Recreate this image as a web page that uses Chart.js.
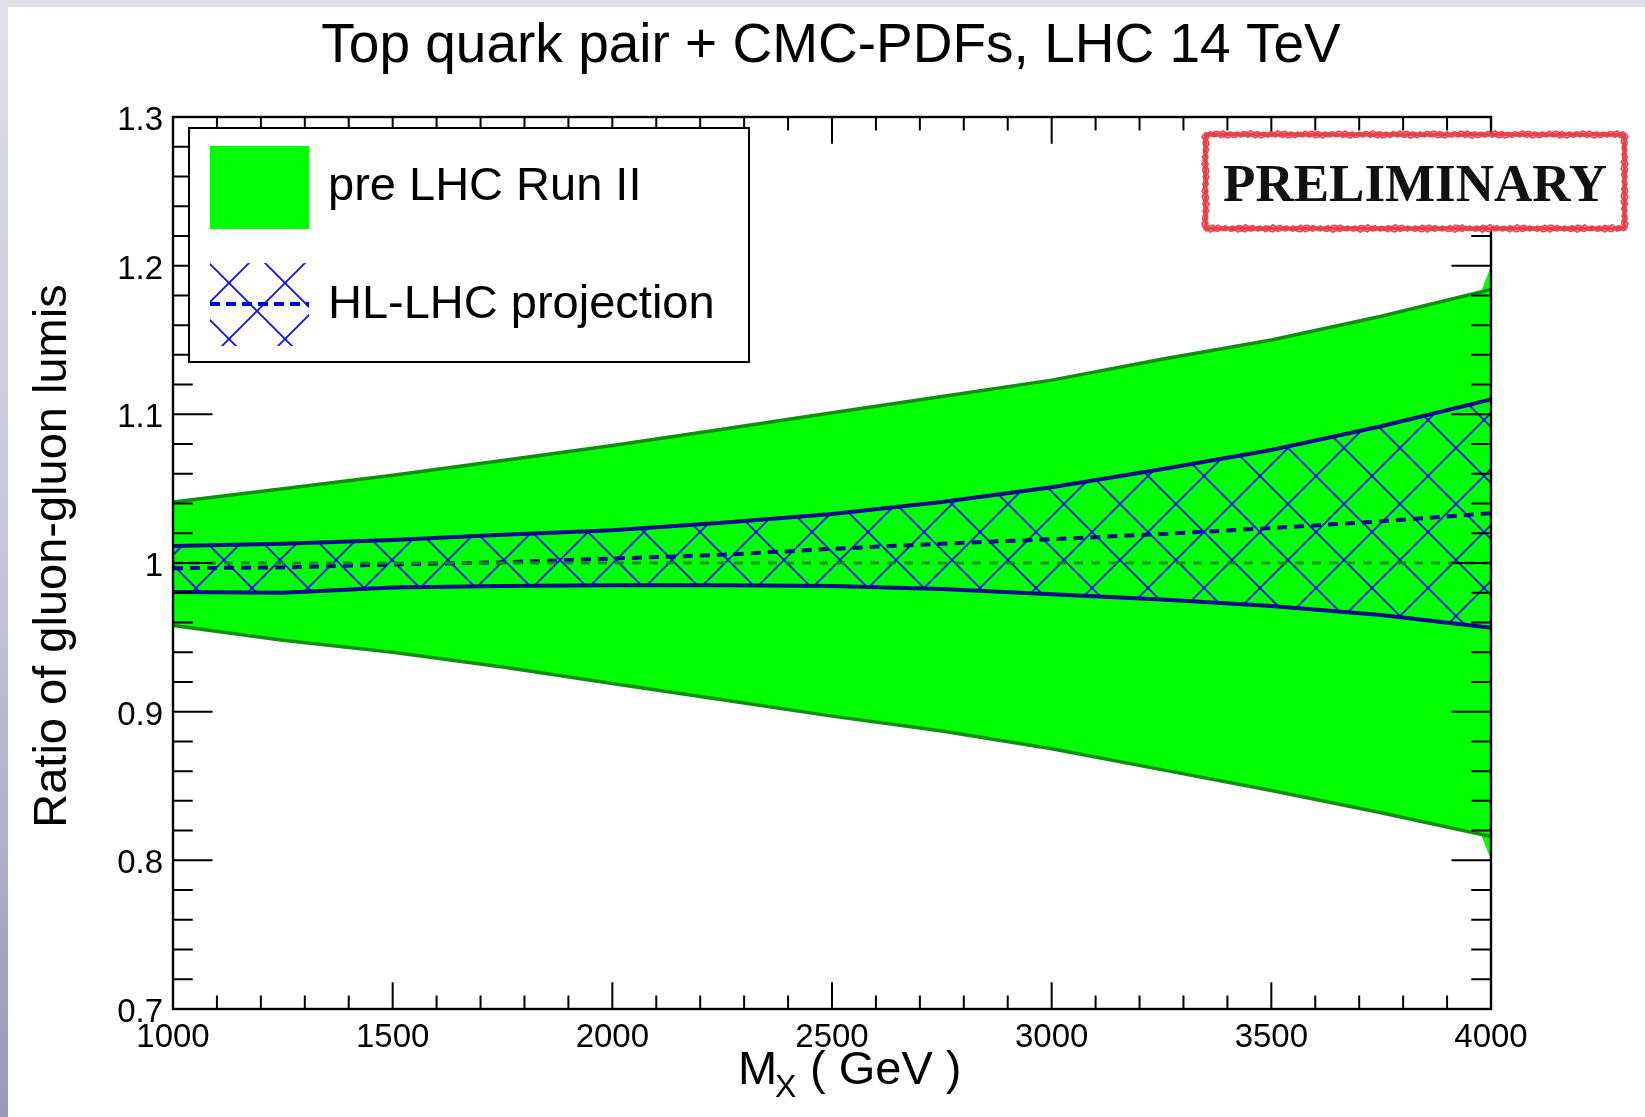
<!DOCTYPE html>
<html>
<head>
<meta charset="utf-8">
<title>Ratio of gluon-gluon lumis</title>
<script src="https://cdn.jsdelivr.net/npm/chart.js@4.4.1/dist/chart.umd.min.js"></script>
<style>
  html, body { margin: 0; padding: 0; width: 1645px; height: 1117px; overflow: hidden; }
  body { position: relative; background: linear-gradient(to bottom, #dfdfe7 0%, #c6c6d6 50%, #9898b9 100%); }
  #sheet { position: absolute; left: 8px; top: 7px; right: 0; bottom: 0; background: #fff; }
  #lumiChart { position: absolute; left: 0; top: 0; }
</style>
</head>
<body>
<div id="sheet"></div>
<canvas id="lumiChart" width="1645" height="1117"></canvas>
<script>
// gluon-gluon luminosity ratio vs invariant mass
const massGeV = [1000, 1250, 1500, 1750, 2000, 2250, 2500, 2750, 3000, 3250, 3500, 3750, 4000];
const preRun2Up = [1.041, 1.050, 1.059, 1.069, 1.079, 1.090, 1.101, 1.112, 1.123, 1.137, 1.150, 1.166, 1.184];
const preRun2Down = [0.958, 0.948, 0.940, 0.930, 0.919, 0.908, 0.897, 0.887, 0.875, 0.861, 0.847, 0.832, 0.816];
const hllhcUp = [1.0115, 1.013, 1.0155, 1.019, 1.022, 1.027, 1.033, 1.041, 1.051, 1.063, 1.076, 1.092, 1.110];
const hllhcDown = [0.9805, 0.980, 0.9835, 0.9845, 0.985, 0.985, 0.9845, 0.9825, 0.979, 0.9755, 0.971, 0.965, 0.9565];
const hllhcCentral = [0.9965, 0.997, 0.999, 1.0005, 1.003, 1.0055, 1.0095, 1.013, 1.016, 1.0195, 1.0235, 1.028, 1.0335];

// last bin of the pre Run II band (fill only, the edge lines stop before it)
const tipMass = [3978, 4000];
const tipUp = [1.183, 1.200];
const tipDown = [0.817, 0.800];

const xMajorTicks = [1000, 1500, 2000, 2500, 3000, 3500, 4000];
const yMajorTicks = [0.7, 0.8, 0.9, 1.0, 1.1, 1.2, 1.3];
const legendLabels = ["pre LHC Run II", "HL-LHC projection"];

const SANS = '"Liberation Sans", Arial, Helvetica, sans-serif';
const GREEN = "#00ff00";
const GREEN_EDGE = "#108e10";
const NAVY = "#0a0a8e";
const HATCH_BLUE = "#1010f0";

const pts = (xs, ys) => xs.map((x, i) => ({ x, y: ys[i] }));
const fillPts = (ys, tip) =>
  pts(massGeV, ys).filter((p) => p.x < tipMass[0]).concat(pts(tipMass, tip));

// crossed hatch for the HL-LHC band
function makeHatch(ctx) {
  const size = 56;
  const c = document.createElement("canvas");
  c.width = c.height = size;
  const g = c.getContext("2d");
  g.strokeStyle = HATCH_BLUE;
  g.lineWidth = 1.8;
  g.beginPath();
  for (const k of [-size, 0, size]) {
    g.moveTo(k, 0); g.lineTo(k + size, size);
    g.moveTo(k + size, 0); g.lineTo(k, size);
  }
  g.stroke();
  return ctx.createPattern(c, "repeat");
}

const canvas = document.getElementById("lumiChart");
const ctx = canvas.getContext("2d");
const hatch = makeHatch(ctx);

// hatch crossings sit on the ratio = 1 line, starting at the left axis
const hatchAnchor = {
  id: "hatchAnchor",
  beforeDatasetsDraw(chart) {
    const { chartArea, scales } = chart;
    hatch.setTransform(new DOMMatrix([1, 0, 0, 1, chartArea.left, scales.y.getPixelForValue(1)]));
  },
};

// ROOT style frame: ticks inside on all four sides
const frameTicks = {
  id: "frameTicks",
  afterDatasetsDraw(chart) {
    const { ctx, chartArea: a, scales: { x, y } } = chart;
    const w = a.right - a.left, h = a.bottom - a.top;
    ctx.save();
    ctx.strokeStyle = "#000";
    ctx.lineWidth = 2;
    ctx.beginPath();
    for (let m = 1000; m <= 4000; m += 100) {
      const px = x.getPixelForValue(m);
      const len = m % 500 === 0 ? h * 0.03 : h * 0.015;
      ctx.moveTo(px, a.bottom); ctx.lineTo(px, a.bottom - len);
      ctx.moveTo(px, a.top); ctx.lineTo(px, a.top + len);
    }
    for (let i = 0; i <= 30; i++) {
      const py = y.getPixelForValue(0.7 + i * 0.02);
      const len = i % 5 === 0 ? w * 0.03 : w * 0.015;
      ctx.moveTo(a.left, py); ctx.lineTo(a.left + len, py);
      ctx.moveTo(a.right, py); ctx.lineTo(a.right - len, py);
    }
    ctx.stroke();
    ctx.lineWidth = 2.4;
    ctx.strokeRect(a.left, a.top, w, h);
    ctx.restore();
  },
};

function roughLine(ctx, x0, y0, x1, y1, off, seed) {
  const len = Math.hypot(x1 - x0, y1 - y0);
  const n = Math.ceil(len / 2.5);
  const nx = -(y1 - y0) / len, ny = (x1 - x0) / len;
  ctx.beginPath();
  for (let i = 0; i <= n; i++) {
    const t = i / n;
    const j = off + 1.0 * Math.sin(i * 2.31 + seed) + 0.6 * Math.sin(i * 5.77 + seed * 1.7);
    const px = x0 + (x1 - x0) * t + nx * j;
    const py = y0 + (y1 - y0) * t + ny * j;
    i ? ctx.lineTo(px, py) : ctx.moveTo(px, py);
  }
  ctx.stroke();
}

// titles, legend box and the stamp
const overlay = {
  id: "overlay",
  afterDraw(chart) {
    const { ctx } = chart;
    ctx.save();
    ctx.fillStyle = "#000";

    ctx.font = `55px ${SANS}`;
    ctx.textAlign = "center";
    ctx.textBaseline = "alphabetic";
    ctx.fillText("Top quark pair + CMC-PDFs, LHC 14 TeV", 831, 62);

    // y title
    ctx.save();
    ctx.translate(66, 556);
    ctx.rotate(-Math.PI / 2);
    ctx.font = `47px ${SANS}`;
    ctx.fillText("Ratio of gluon-gluon lumis", 0, 0);
    ctx.restore();

    // x title with subscript
    ctx.textAlign = "left";
    ctx.font = `47px ${SANS}`;
    ctx.fillText("M", 738, 1084);
    ctx.font = `32px ${SANS}`;
    ctx.fillText("X", 775, 1097);
    ctx.font = `47px ${SANS}`;
    ctx.fillText(" ( GeV )", 797, 1084);

    // legend
    ctx.fillStyle = "#fff";
    ctx.fillRect(189, 128, 560, 234);
    ctx.strokeStyle = "#000";
    ctx.lineWidth = 2;
    ctx.strokeRect(189, 128, 560, 234);

    ctx.fillStyle = GREEN;
    ctx.fillRect(210, 146, 99, 83);

    ctx.save();
    ctx.beginPath();
    ctx.rect(210, 263, 99, 83);
    ctx.clip();
    ctx.fillStyle = hatch;
    ctx.fillRect(210, 263, 99, 83);
    ctx.restore();
    ctx.save();
    ctx.strokeStyle = "#0000f0";
    ctx.lineWidth = 4;
    ctx.setLineDash([10, 6]);
    ctx.beginPath();
    ctx.moveTo(210, 304); ctx.lineTo(309, 304);
    ctx.stroke();
    ctx.restore();

    ctx.fillStyle = "#000";
    ctx.font = `47px ${SANS}`;
    ctx.fillText(legendLabels[0], 328, 200);
    ctx.fillText(legendLabels[1], 328, 318);

    // PRELIMINARY stamp
    const sx = 1205.5, sy = 134.5, sw = 419, sh = 94;
    ctx.fillStyle = "#fff";
    ctx.fillRect(sx, sy, sw, sh);
    ctx.strokeStyle = "#e8414b";
    ctx.lineWidth = 4;
    ctx.strokeRect(sx, sy, sw, sh);
    ctx.lineWidth = 1.5;
    const corners = [[sx, sy], [sx + sw, sy], [sx + sw, sy + sh], [sx, sy + sh], [sx, sy]];
    for (let k = 0; k < 4; k++) {
      const [ax, ay] = corners[k], [bx, by] = corners[k + 1];
      roughLine(ctx, ax, ay, bx, by, 2.2, k * 1.3);
      roughLine(ctx, ax, ay, bx, by, -2.2, k * 2.1 + 0.7);
    }
    ctx.fillStyle = "#111";
    ctx.textAlign = "center";
    ctx.font = 'bold 53px "Liberation Serif", "Times New Roman", serif';
    ctx.fillText("PRELIMINARY", 1415, 201);

    ctx.restore();
  },
};

const tickFont = { family: SANS, size: 33 };

new Chart(ctx, {
  type: "line",
  data: {
    datasets: [
      {
        label: legendLabels[0],
        data: fillPts(preRun2Up, tipUp),
        borderWidth: 0,
        backgroundColor: GREEN,
        fill: "+1",
        order: 6,
      },
      {
        data: fillPts(preRun2Down, tipDown),
        borderWidth: 0,
        fill: false,
        order: 6,
      },
      {
        data: pts(massGeV, preRun2Up),
        borderColor: GREEN_EDGE,
        borderWidth: 3.5,
        fill: false,
        order: 5,
      },
      {
        data: pts(massGeV, preRun2Down),
        borderColor: GREEN_EDGE,
        borderWidth: 3.5,
        fill: false,
        order: 5,
      },
      {
        label: legendLabels[1],
        data: pts(massGeV, hllhcUp),
        borderColor: NAVY,
        borderWidth: 4,
        backgroundColor: hatch,
        fill: "+1",
        order: 4,
      },
      {
        data: pts(massGeV, hllhcDown),
        borderColor: NAVY,
        borderWidth: 4,
        fill: false,
        order: 4,
      },
      {
        data: pts(massGeV, hllhcCentral),
        borderColor: NAVY,
        borderWidth: 4,
        borderDash: [10, 7],
        fill: false,
        order: 3,
      },
      {
        // reference ratio = 1
        data: pts([massGeV[0], massGeV[massGeV.length - 1]], [1, 1]),
        borderColor: "#168a16",
        borderWidth: 3,
        borderDash: [9, 8],
        fill: false,
        order: 2,
      },
    ],
  },
  options: {
    responsive: false,
    animation: false,
    parsing: false,
    elements: {
      point: { radius: 0, hoverRadius: 0 },
      line: { tension: 0 },
    },
    layout: { padding: { left: 0, top: 117, right: 154, bottom: 0 } },
    scales: {
      x: {
        type: "linear",
        min: 1000,
        max: 4000,
        afterFit: (s) => { s.height = 108; },
        afterBuildTicks: (s) => { s.ticks = xMajorTicks.map((v) => ({ value: v })); },
        ticks: {
          font: tickFont,
          color: "#000",
          padding: 9,
          maxRotation: 0,
          autoSkip: false,
          callback: (v) => String(v),
        },
        grid: { display: false, drawTicks: false },
        border: { display: false },
      },
      y: {
        type: "linear",
        min: 0.7,
        max: 1.3,
        afterFit: (s) => { s.width = 173; },
        afterBuildTicks: (s) => { s.ticks = yMajorTicks.map((v) => ({ value: v })); },
        ticks: {
          font: tickFont,
          color: "#000",
          padding: 10,
          labelOffset: 4,
          autoSkip: false,
          callback: (v) => String(+v.toFixed(1)),
        },
        grid: { display: false, drawTicks: false },
        border: { display: false },
      },
    },
    plugins: {
      legend: { display: false },
      tooltip: { enabled: false },
      title: { display: false },
      filler: { drawTime: "beforeDatasetsDraw" },
    },
  },
  plugins: [hatchAnchor, frameTicks, overlay],
});
</script>
</body>
</html>
